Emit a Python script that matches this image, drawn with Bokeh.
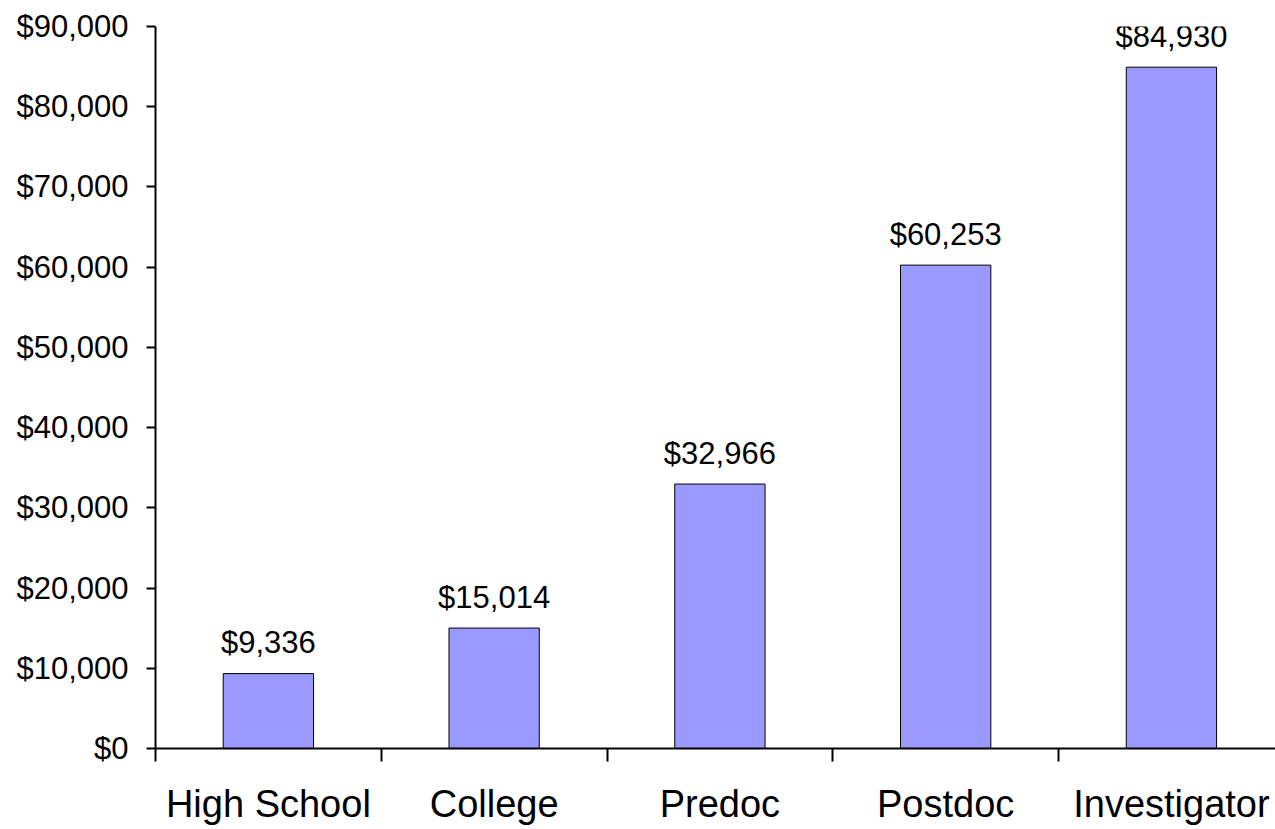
from bokeh.plotting import figure
from bokeh.models import Range1d, FixedTicker, NumeralTickFormatter, ColumnDataSource
from bokeh.core.properties import value
from bokeh.embed import file_html
from bokeh.resources import INLINE

categories = ["High School", "College", "Predoc", "Postdoc", "Investigator"]
salaries = [9336, 15014, 32966, 60253, 84930]
y_ticks = [0, 10000, 20000, 30000, 40000, 50000, 60000, 70000, 80000, 90000]

centers = [i + 0.5 for i in range(len(categories))]
labels = ["${:,}".format(v) for v in salaries]
src = ColumnDataSource(dict(x=centers, top=salaries, label=labels))

FONT = "Liberation Sans"

p = figure(width=1275, height=829, output_backend="svg", toolbar_location=None,
           x_range=Range1d(0, 4.961), y_range=Range1d(0, 90000),
           min_border_left=155, min_border_top=26, min_border_right=0,
           min_border_bottom=81)
p.outline_line_color = None
p.xgrid.visible = False
p.ygrid.visible = False
p.background_fill_color = "white"
p.border_fill_color = "white"

p.vbar(x="x", top="top", width=0.4, bottom=0, source=src,
       fill_color="#9999FF", line_color="black", line_width=1)
p.text(x="x", y="top", text="label", source=src, text_align="center",
       text_baseline="alphabetic", y_offset=-31,
       text_font=value(FONT), text_font_size="31px", text_color="black")

# y axis
p.yaxis.ticker = FixedTicker(ticks=y_ticks)
p.yaxis.formatter = NumeralTickFormatter(format="$0,0")
p.yaxis.major_label_text_font = FONT
p.yaxis.major_label_text_font_size = "31px"
p.yaxis.major_label_text_color = "black"
p.yaxis.axis_line_width = 2
p.yaxis.axis_line_color = "black"
p.yaxis.major_tick_line_width = 2
p.yaxis.major_tick_in = 0
p.yaxis.major_tick_out = 9
p.yaxis.minor_tick_line_color = None
p.yaxis.major_label_standoff = 18

# x axis: labels at centers, ticks at boundaries
p.xaxis.ticker = FixedTicker(ticks=centers, minor_ticks=list(range(len(categories))))
p.xaxis.major_label_overrides = {c: n for c, n in zip(centers, categories)}
p.xaxis.major_label_text_font = FONT
p.xaxis.major_label_text_font_size = "38px"
p.xaxis.major_label_text_color = "black"
p.xaxis.axis_line_width = 2
p.xaxis.axis_line_color = "black"
p.xaxis.major_tick_line_color = None
p.xaxis.major_tick_in = 0
p.xaxis.major_tick_out = 0
p.xaxis.minor_tick_line_color = "black"
p.xaxis.minor_tick_line_width = 2
p.xaxis.minor_tick_in = 0
p.xaxis.minor_tick_out = 13
p.xaxis.major_label_standoff = 21

open("out.html", "w").write(file_html(p, INLINE))
